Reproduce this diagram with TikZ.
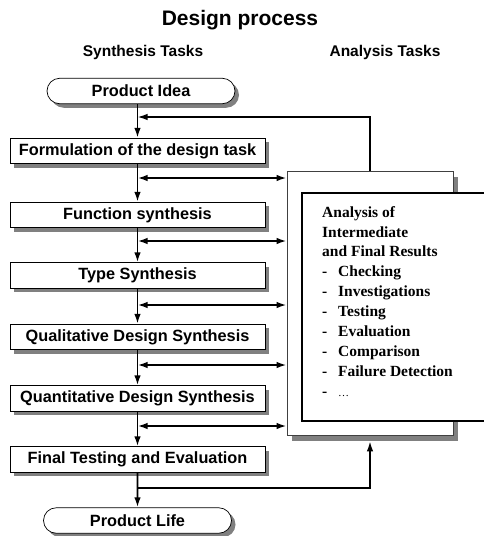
\documentclass[tikz,border=0pt]{standalone}
\usepackage{fontspec}
\setmainfont{Liberation Serif}
\setsansfont{Liberation Sans}
\usetikzlibrary{calc,arrows.meta,shapes.misc,shadows}

\begin{document}
\begin{tikzpicture}[x=1pt,y=-1pt]
    % Setup the styles for the tasks
        \tikzset{task style/.style={draw,
                                    fill=white,
                                    line width=0.7pt,
                                    minimum width=255pt,
                                    minimum height=25.5pt,
                                    inner sep=0pt,
                                    font=\sffamily\bfseries\fontsize{16.3}{18}\selectfont,
                                    drop shadow={shadow xshift=4pt,shadow yshift=-4pt,fill=gray,opacity=1}},
                 end style/.style={task style,
                                   rounded rectangle,
                                   minimum width=188pt},
                 flow style/.style={line width=1.9pt,
                                    >={Latex[length=10pt,width=6.5pt]}}}
        \clip (0,0) rectangle (484,536);
        % Headings
        \node[font=\sffamily\bfseries\fontsize{21}{24}\selectfont] at (240,20) (title) {Design process};
        \node[font=\sffamily\bfseries\fontsize{15.5}{18}\selectfont] at (143,52) (head_syn) {Synthesis Tasks};
        \node[font=\sffamily\bfseries\fontsize{15.5}{18}\selectfont] at (385,52) (head_ana) {Analysis Tasks};
        % Draw the synthesis tasks
        \node[end style]  at (141,91)      (idea)      {Product Idea};
        \node[task style] at (137.5,151)   (task_form) {Formulation of the design task};
        \node[task style] at (137.5,215)   (task_func) {Function synthesis};
        \node[task style] at (137.5,275.5) (task_type) {Type Synthesis};
        \node[task style] at (137.5,337)   (task_qual) {Qualitative Design Synthesis};
        \node[task style] at (137.5,398.5) (task_quan) {Quantitative Design Synthesis};
        \node[task style] at (137.5,459.5) (task_test) {Final Testing and Evaluation};
        \node[end style]  at (137.5,520.5) (life)      {Product Life};
        % Draw the analysis boxes
        \node[draw=black!75, fill=white, line width=0.7pt,
              minimum width=166pt, minimum height=264pt,
              drop shadow={shadow xshift=5pt,shadow yshift=-6pt,fill=gray,opacity=1}]
              at (370,303) (back) {};
        \node[draw, fill=white, line width=1.6pt,
              minimum width=200pt, minimum height=228pt]
              at (402,307) (front) {};
        \node[anchor=north west, align=left, inner sep=0pt,
              font=\bfseries\fontsize{15.5}{19.9}\selectfont]
              at (322,206) (results)
              {Analysis of\\Intermediate\\and Final Results\\
               \makebox[16pt][l]{-}Checking\\
               \makebox[16pt][l]{-}Investigations\\
               \makebox[16pt][l]{-}Testing\\
               \makebox[16pt][l]{-}Evaluation\\
               \makebox[16pt][l]{-}Comparison\\
               \makebox[16pt][l]{-}Failure Detection\\
               \makebox[16pt][l]{-}\textmd{\fontsize{11}{12}\selectfont\dots}};
        % Junctions on the main line
        \coordinate (fb_top) at (137.5,117);
        \coordinate (j_1) at (137.5,178);
        \coordinate (j_2) at (137.5,241);
        \coordinate (j_3) at (137.5,305);
        \coordinate (j_4) at (137.5,365);
        \coordinate (j_5) at (137.5,426);
        \coordinate (fb_bot) at (137.5,488);
        % Connect the tasks with arrows
        \draw[flow style,->] (idea.south -| task_form.north) -- (task_form.north);
        \draw[flow style,->] (task_form) -- (task_func);
        \draw[flow style,->] (task_func) -- (task_type);
        \draw[flow style,->] (task_type) -- (task_qual);
        \draw[flow style,->] (task_qual) -- (task_quan);
        \draw[flow style,->] (task_quan) -- (task_test);
        \draw[flow style,->] (task_test) -- (life);
        \foreach \j in {j_1,j_2,j_3,j_4,j_5}
            \draw[flow style,<->] (\j) -- (\j -| back.west);
        \draw[flow style,line width=1.5pt,->] (back.north) |- (fb_top);
        \draw[flow style,line width=1.5pt,->] (fb_bot) -| ([yshift=-6pt]back.south);
\end{tikzpicture}
\end{document}
